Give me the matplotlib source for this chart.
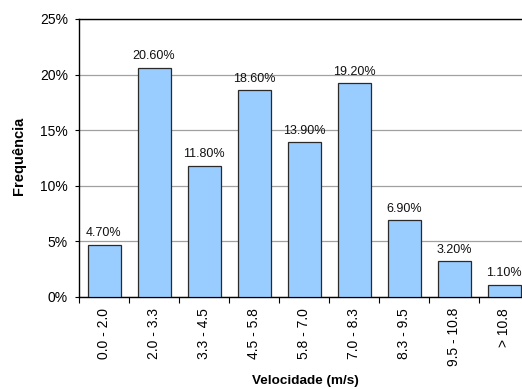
import matplotlib
matplotlib.use("Agg")
import matplotlib.pyplot as plt
from matplotlib.ticker import FuncFormatter, MultipleLocator

plt.rcParams['font.family'] = ['Liberation Sans', 'DejaVu Sans']

categories = ["0.0 - 2.0", "2.0 - 3.3", "3.3 - 4.5", "4.5 - 5.8", "5.8 - 7.0",
              "7.0 - 8.3", "8.3 - 9.5", "9.5 - 10.8", "> 10.8"]
frequencies = [4.7, 20.6, 11.8, 18.6, 13.9, 19.2, 6.9, 3.2, 1.1]

W, H = 522, 389
fig = plt.figure(figsize=(W / 100, H / 100), dpi=100)
left, right, top, bottom = 79, 529, 19, 297
ax = fig.add_axes([left / W, 1 - bottom / H, (right - left) / W, (bottom - top) / H])

x = list(range(len(categories)))
ax.bar(x, frequencies, width=0.66, color="#99CCFF", edgecolor="#2a2a2a",
       linewidth=0.9, zorder=3)
for xi, v in zip(x, frequencies):
    ax.annotate(f"{v:.2f}%", (xi, v), xytext=(0, 4), textcoords="offset points",
                ha="center", va="bottom", fontsize=9, color="#111111")

ax.set_xlim(-0.5, len(categories) - 0.5)
ax.set_ylim(0, 25)
ax.yaxis.set_major_locator(MultipleLocator(5))
ax.yaxis.set_major_formatter(FuncFormatter(lambda v, _: f"{v:.0f}%"))
ax.grid(axis="y", color="#a0a0a0", linewidth=0.9, zorder=0)

ax.set_xticks(x)
ax.set_xticklabels(categories, rotation=90, fontsize=10, va="top")
ax.set_xticks([i - 0.5 for i in range(len(categories) + 1)], minor=True)
ax.tick_params(axis="x", which="major", length=0, pad=8)
ax.tick_params(axis="x", which="minor", length=4, width=0.8, direction="out")
ax.tick_params(axis="y", length=3, width=0.8, labelsize=10, pad=5)

for side in ("left", "bottom", "top"):
    ax.spines[side].set_linewidth(1.0)
    ax.spines[side].set_color("black")
ax.spines["right"].set_visible(False)

fig.text(19 / W, 1 - 156 / H, "Frequência", rotation=90, ha="center", va="center",
         fontsize=10.5, fontweight="bold")
fig.text(305 / W, 1 - 381 / H, "Velocidade (m/s)", ha="center", va="center",
         fontsize=9.7, fontweight="bold")

fig.savefig("out.png", dpi=100)
